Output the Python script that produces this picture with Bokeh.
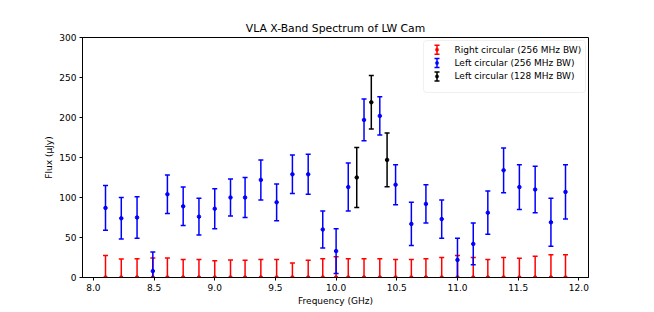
import numpy as np
from bokeh.plotting import figure
from bokeh.models import (ColumnDataSource, Range1d, FixedTicker, Label, Arrow, TeeHead,
                          BoxAnnotation)
from bokeh.embed import file_html
from bokeh.resources import INLINE

# ---- data ----
freq_256 = [8.10, 8.23, 8.36, 8.49, 8.61, 8.74, 8.87, 9.00, 9.13, 9.25, 9.38, 9.51,
            9.64, 9.77, 9.89, 10.00, 10.10, 10.23, 10.36, 10.49, 10.62, 10.74, 10.87,
            11.00, 11.13, 11.25, 11.38, 11.51, 11.64, 11.77, 11.89]
right_flux = [0.0] * 31
right_err = [27.5, 23, 23.5, 24.5, 24.5, 22.5, 22.5, 21, 22, 21.5, 22.5, 22.5, 18, 21.5,
             23.5, 26, 23.5, 23.5, 23.5, 22.5, 22.5, 23.5, 25, 27.5, 25, 22.5, 25, 24,
             26.5, 28.5, 28.5]
left_flux = [87, 74, 75, 8, 104, 89, 76, 86, 100, 100, 122, 94, 129, 129, 60, 33, 113,
             197, 202, 116, 67, 92, 73, 22, 42, 81, 134, 113, 110, 69, 107]
left_err = [28, 26, 26, 24, 24, 24, 23, 25, 23, 25, 25, 23, 24, 25, 23, 28, 30, 26, 24,
            25, 27, 24, 24, 27, 26, 27, 28, 28, 29, 30, 34]
freq_128 = [10.17, 10.29, 10.42]
left128_flux = [125, 219, 147]
left128_err = [37.5, 33.5, 33.5]

series_labels = ["Right circular (256 MHz BW)", "Left circular (256 MHz BW)",
                 "Left circular (128 MHz BW)"]
series_colors = ["#ff0000", "#0000ff", "#000000"]

x_ticks = [8.0, 8.5, 9.0, 9.5, 10.0, 10.5, 11.0, 11.5, 12.0]
y_ticks = [0, 50, 100, 150, 200, 250, 300]

FONT = "DejaVu Sans"

all_f = freq_256 + freq_128
fmin, fmax = min(all_f), max(all_f)
pad = 0.05 * (fmax - fmin)

p = figure(width=654, height=312, output_backend="svg", toolbar_location=None,
           x_range=Range1d(fmin - pad, fmax + pad), y_range=Range1d(0, 300),
           min_border_left=82, min_border_right=66, min_border_top=37, min_border_bottom=35,
           title="VLA X-Band Spectrum of LW Cam")
p.title.align = "center"
p.title.text_font = FONT
p.title.text_font_size = "10.8px"
p.title.text_font_style = "normal"
p.title.text_color = "black"
p.title.standoff = 6
p.grid.visible = False
p.outline_line_color = "black"
p.outline_line_width = 1

for ax in (p.xaxis[0], p.yaxis[0]):
    ax.major_label_text_font = FONT
    ax.major_label_text_font_size = "9px"
    ax.major_label_text_color = "black"
    ax.axis_label_text_font = FONT
    ax.axis_label_text_font_size = "9px"
    ax.axis_label_text_font_style = "normal"
    ax.axis_label_text_color = "black"
    ax.minor_tick_line_color = None
    ax.major_tick_line_color = "black"
    ax.major_tick_out = 3
    ax.major_tick_in = 0
    ax.major_label_standoff = 3
    ax.axis_label_standoff = 2
    ax.axis_line_color = "black"

p.xaxis.ticker = FixedTicker(ticks=x_ticks)
p.yaxis.ticker = FixedTicker(ticks=y_ticks)
p.xaxis.major_label_overrides = {t: f"{t:.1f}" for t in x_ticks}
p.xaxis.axis_label = "Frequency (GHz)"
p.yaxis.axis_label = "Flux (μJy)"


def errorbars(x, y, e, color):
    x = np.asarray(x, float)
    y = np.asarray(y, float)
    e = np.asarray(e, float)
    src = ColumnDataSource(dict(x=x, y=y, lo=y - e, hi=y + e))
    p.segment(x0="x", y0="lo", x1="x", y1="hi", source=src, line_color=color, line_width=1.5)
    p.scatter(x="x", y="lo", source=src, marker="dash", size=5, line_color=color, line_width=1.5)
    p.scatter(x="x", y="hi", source=src, marker="dash", size=5, line_color=color, line_width=1.5)
    p.scatter(x="x", y="y", source=src, marker="circle", size=3.5,
              fill_color=color, line_color=color)


errorbars(freq_256, right_flux, right_err, series_colors[0])
errorbars(freq_256, left_flux, left_err, series_colors[1])
errorbars(freq_128, left128_flux, left128_err, series_colors[2])

# ---- legend (matplotlib-style, with error-bar icons), canvas pixel positions ----
LEG_LEFT, LEG_RIGHT, LEG_TOP, LEG_BOTTOM = 423, 585, 40, 92
ROW0, ROW_STEP = 49.3, 13.3
ICON_X, ICON_HALF, TEXT_X = 436.5, 4.5, 454

p.add_layout(BoxAnnotation(left=LEG_LEFT, right=LEG_RIGHT, top=LEG_TOP, bottom=LEG_BOTTOM,
                           left_units="canvas", right_units="canvas",
                           top_units="canvas", bottom_units="canvas",
                           fill_color="white", fill_alpha=0.8,
                           line_color="#cccccc", line_width=1, border_radius=3,
                           propagate_hover=False))
for i, (lab, col) in enumerate(zip(series_labels, series_colors)):
    cy = ROW0 + i * ROW_STEP
    p.add_layout(Arrow(x_start=ICON_X, y_start=cy - ICON_HALF, x_end=ICON_X, y_end=cy + ICON_HALF,
                       start_units="canvas", end_units="canvas",
                       line_color=col, line_width=1.5,
                       start=TeeHead(size=5, line_color=col, line_width=1.5),
                       end=TeeHead(size=5, line_color=col, line_width=1.5)))
    p.add_layout(BoxAnnotation(left=ICON_X - 1.75, right=ICON_X + 1.75,
                               top=cy - 1.75, bottom=cy + 1.75,
                               left_units="canvas", right_units="canvas",
                               top_units="canvas", bottom_units="canvas",
                               fill_color=col, fill_alpha=1, line_color=col,
                               border_radius=2))
    p.add_layout(Label(x=TEXT_X, y=cy, x_units="canvas", y_units="canvas", text=lab,
                       text_font=FONT, text_font_size="9px", text_baseline="middle",
                       text_color="black"))

open("out.html", "w").write(file_html(p, INLINE))
